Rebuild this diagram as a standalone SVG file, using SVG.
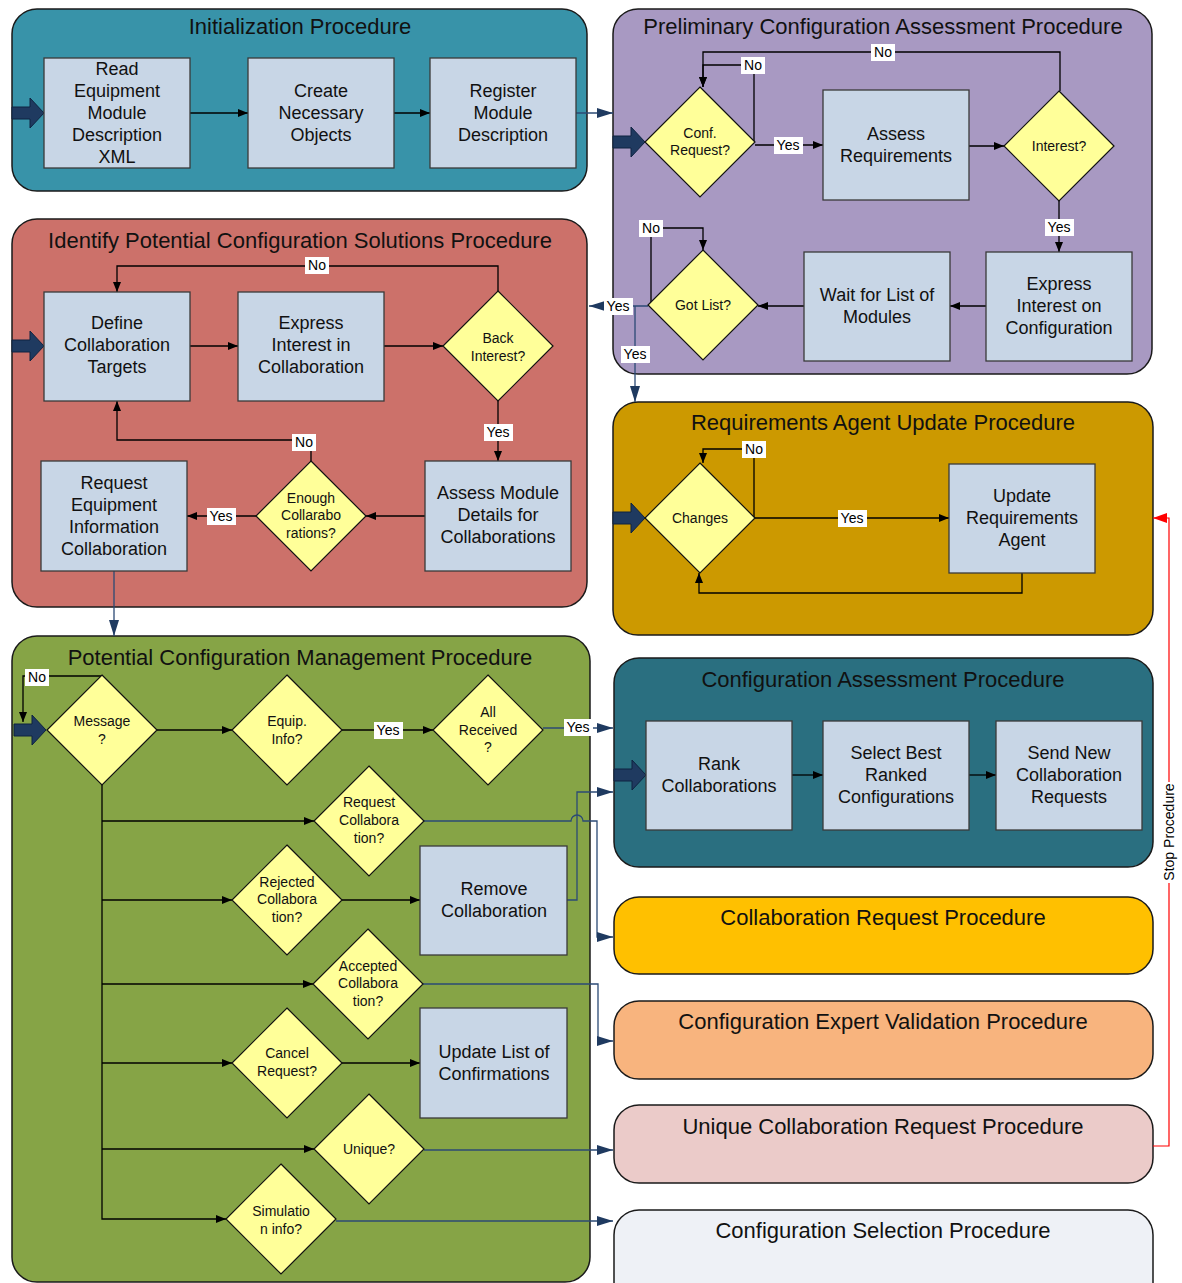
<svg xmlns="http://www.w3.org/2000/svg" width="1182" height="1283" viewBox="0 0 1182 1283">
<style>
.pan{stroke:#1a1a1a;stroke-width:1.5}
.box{fill:#C8D6E6;stroke:#3a3a3a;stroke-width:1.3}
.dia{fill:#FFFF99;stroke:#111;stroke-width:1.2}
.title{font-family:"Liberation Sans",Arial,sans-serif;font-size:22px;fill:#111;text-anchor:middle}
.bt{font-family:"Liberation Sans",Arial,sans-serif;font-size:18px;fill:#111;text-anchor:middle}
.dt{font-family:"Liberation Sans",Arial,sans-serif;font-size:14px;fill:#111;text-anchor:middle}
.lt{font-family:"Liberation Sans",Arial,sans-serif;font-size:14px;fill:#000;text-anchor:middle}
.lb{fill:#fff}
.cb{fill:none;stroke:#000;stroke-width:1.3;marker-end:url(#ab)}
.cbn{fill:none;stroke:#000;stroke-width:1.3}
.cu{fill:none;stroke:#2B4A75;stroke-width:1.3;marker-end:url(#au)}
.cun{fill:none;stroke:#2B4A75;stroke-width:1.3}
.cr{fill:none;stroke:#FF0000;stroke-width:1.2;marker-end:url(#ar)}
.fat{fill:#1F3A60;stroke:#0E2340;stroke-width:1}
</style>
<defs>
<marker id="ab" viewBox="0 0 10 8" refX="10" refY="4" markerWidth="10" markerHeight="8" markerUnits="userSpaceOnUse" orient="auto"><path d="M0,0L10,4L0,8z" fill="#000"/></marker>
<marker id="au" viewBox="0 0 16 10" refX="16" refY="5" markerWidth="16" markerHeight="10" markerUnits="userSpaceOnUse" orient="auto"><path d="M0,0L16,5L0,10z" fill="#1F3A60"/></marker>
<marker id="ar" viewBox="0 0 14 10" refX="14" refY="5" markerWidth="14" markerHeight="10" markerUnits="userSpaceOnUse" orient="auto"><path d="M0,0L14,5L0,10z" fill="#FF0000"/></marker>
<path id="fatp" class="fat" d="M0,-6H18V-15L32,0L18,15V6H0z"/>
</defs>

<!-- Panels -->
<g id="panel-init">
<rect class="pan" x="12" y="9" width="575" height="182" rx="25" fill="#3893A9"/>
<text class="title" x="300" y="34">Initialization Procedure</text>
</g>
<g id="panel-prelim">
<rect class="pan" x="613" y="9" width="539" height="365" rx="25" fill="#A899C2"/>
<text class="title" x="883" y="34">Preliminary Configuration Assessment Procedure</text>
</g>
<g id="panel-identify">
<rect class="pan" x="12" y="219" width="575" height="388" rx="25" fill="#CC716A"/>
<text class="title" x="300" y="248">Identify Potential Configuration Solutions Procedure</text>
</g>
<g id="panel-reqagent">
<rect class="pan" x="613" y="402" width="540" height="233" rx="25" fill="#CC9900"/>
<text class="title" x="883" y="430">Requirements Agent Update Procedure</text>
</g>
<g id="panel-potential">
<rect class="pan" x="12" y="636" width="578" height="646" rx="25" fill="#86A446"/>
<text class="title" x="300" y="665">Potential Configuration Management Procedure</text>
</g>
<g id="panel-confassess">
<rect class="pan" x="614" y="658" width="539" height="209" rx="25" fill="#2A6F80"/>
<text class="title" x="883" y="687">Configuration Assessment Procedure</text>
</g>
<g id="panel-collabreq">
<rect class="pan" x="614" y="897" width="539" height="77" rx="25" fill="#FFC000"/>
<text class="title" x="883" y="925">Collaboration Request Procedure</text>
</g>
<g id="panel-expert">
<rect class="pan" x="614" y="1001" width="539" height="78" rx="25" fill="#F8B47E"/>
<text class="title" x="883" y="1029">Configuration Expert Validation Procedure</text>
</g>
<g id="panel-unique">
<rect class="pan" x="614" y="1105" width="539" height="78" rx="25" fill="#EBCBC9"/>
<text class="title" x="883" y="1134">Unique Collaboration Request Procedure</text>
</g>
<g id="panel-selection">
<rect class="pan" x="614" y="1210" width="539" height="100" rx="25" fill="#EEF1F6"/>
<text class="title" x="883" y="1238">Configuration Selection Procedure</text>
</g>

<!-- Entry arrows -->
<g id="entries">
<use href="#fatp" x="12" y="113"/>
<use href="#fatp" x="12" y="346"/>
<use href="#fatp" x="613" y="142"/>
<use href="#fatp" x="613" y="518"/>
<use href="#fatp" x="14" y="730"/>
<use href="#fatp" x="614" y="775"/>
</g>

<!-- Connectors -->
<g id="connectors">
<path class="cb" d="M190,113H248"/>
<path class="cb" d="M394,113H430"/>
<path class="cu" d="M576,113H613"/>

<path class="cb" d="M755,145H823"/>
<path class="cb" d="M754,142V65H703V87"/>
<path class="cb" d="M1060,91V52H703V87"/>
<path class="cb" d="M969,146H1004"/>
<path class="cb" d="M1059,201V252"/>
<path class="cb" d="M986,306H950"/>
<path class="cb" d="M804,306H758"/>
<path class="cb" d="M651,305V228H703V250"/>
<path class="cu" d="M648,306H589"/>
<path class="cu" d="M635,306V402"/>

<path class="cb" d="M190,346H238"/>
<path class="cb" d="M384,346H443"/>
<path class="cb" d="M498,291V266H117V292"/>
<path class="cb" d="M498,401V461"/>
<path class="cb" d="M425,516H366"/>
<path class="cb" d="M311,461V440H117V401"/>
<path class="cb" d="M256,516H187"/>
<path class="cu" d="M114,571V636"/>

<path class="cb" d="M754,518V449H703V463"/>
<path class="cb" d="M755,518H949"/>
<path class="cb" d="M1022,573V593H699V573"/>

<path class="cr" d="M1153,1146H1169V518H1153"/>

<path class="cb" d="M102,676H23V722"/>
<path class="cb" d="M157,730H232"/>
<path class="cb" d="M342,730H433"/>
<path class="cu" d="M543,728H613"/>
<path class="cb" d="M102,785V1219H226"/>
<path class="cb" d="M102,821H314"/>
<path class="cb" d="M102,900H232"/>
<path class="cb" d="M342,900H420"/>
<path class="cb" d="M102,984H313"/>
<path class="cb" d="M102,1063H232"/>
<path class="cb" d="M342,1063H420"/>
<path class="cb" d="M102,1149H314"/>
<path class="cu" d="M567,900H577V792H613"/>
<path class="cu" d="M424,821H571A6,6 0 0 1 583,821H597V937H613"/>
<path class="cu" d="M423,984H598V1041H613"/>
<path class="cu" d="M424,1150H613"/>
<path class="cu" d="M336,1221H613"/>

<path class="cb" d="M792,775H823"/>
<path class="cb" d="M969,775H996"/>

<!-- labels -->
<rect class="lb" x="741" y="57" width="24" height="17"/><text class="lt" x="753" y="70">No</text>
<rect class="lb" x="871" y="44" width="24" height="17"/><text class="lt" x="883" y="57">No</text>
<rect class="lb" x="774" y="137" width="29" height="17"/><text class="lt" x="788" y="150">Yes</text>
<rect class="lb" x="1045" y="219" width="29" height="17"/><text class="lt" x="1059" y="232">Yes</text>
<rect class="lb" x="639" y="220" width="24" height="17"/><text class="lt" x="651" y="233">No</text>
<rect class="lb" x="604" y="298" width="29" height="17"/><text class="lt" x="618" y="311">Yes</text>
<rect class="lb" x="621" y="346" width="29" height="17"/><text class="lt" x="635" y="359">Yes</text>

<rect class="lb" x="305" y="257" width="24" height="17"/><text class="lt" x="317" y="270">No</text>
<rect class="lb" x="484" y="424" width="29" height="17"/><text class="lt" x="498" y="437">Yes</text>
<rect class="lb" x="292" y="434" width="24" height="17"/><text class="lt" x="304" y="447">No</text>
<rect class="lb" x="207" y="508" width="29" height="17"/><text class="lt" x="221" y="521">Yes</text>

<rect class="lb" x="742" y="441" width="24" height="17"/><text class="lt" x="754" y="454">No</text>
<rect class="lb" x="838" y="510" width="29" height="17"/><text class="lt" x="852" y="523">Yes</text>

<rect class="lb" x="25" y="669" width="24" height="17"/><text class="lt" x="37" y="682">No</text>
<rect class="lb" x="374" y="722" width="29" height="17"/><text class="lt" x="388" y="735">Yes</text>
<rect class="lb" x="564" y="719" width="29" height="17"/><text class="lt" x="578" y="732">Yes</text>

<rect class="lb" x="1161" y="782" width="17" height="101"/>
<text class="lt" transform="translate(1174,832) rotate(-90)" x="0" y="0">Stop Procedure</text>
</g>

<!-- Nodes: Initialization -->
<g id="n-read"><rect class="box" x="44" y="58" width="146" height="110"/>
<text class="bt" x="117" y="75">Read</text><text class="bt" x="117" y="97">Equipment</text><text class="bt" x="117" y="119">Module</text><text class="bt" x="117" y="141">Description</text><text class="bt" x="117" y="163">XML</text></g>
<g id="n-create"><rect class="box" x="248" y="58" width="146" height="110"/>
<text class="bt" x="321" y="97">Create</text><text class="bt" x="321" y="119">Necessary</text><text class="bt" x="321" y="141">Objects</text></g>
<g id="n-register"><rect class="box" x="430" y="58" width="146" height="110"/>
<text class="bt" x="503" y="97">Register</text><text class="bt" x="503" y="119">Module</text><text class="bt" x="503" y="141">Description</text></g>

<!-- Preliminary -->
<g id="n-confreq"><path class="dia" d="M700,87L755,142L700,197L645,142z"/>
<text class="dt" x="700" y="138">Conf.</text><text class="dt" x="700" y="155">Request?</text></g>
<g id="n-assessreq"><rect class="box" x="823" y="90" width="146" height="110"/>
<text class="bt" x="896" y="140">Assess</text><text class="bt" x="896" y="162">Requirements</text></g>
<g id="n-interest"><path class="dia" d="M1059,91L1114,146L1059,201L1004,146z"/>
<text class="dt" x="1059" y="151">Interest?</text></g>
<g id="n-expressconf"><rect class="box" x="986" y="252" width="146" height="109"/>
<text class="bt" x="1059" y="290">Express</text><text class="bt" x="1059" y="312">Interest on</text><text class="bt" x="1059" y="334">Configuration</text></g>
<g id="n-wait"><rect class="box" x="804" y="252" width="146" height="109"/>
<text class="bt" x="877" y="301">Wait for List of</text><text class="bt" x="877" y="323">Modules</text></g>
<g id="n-gotlist"><path class="dia" d="M703,250L758,305L703,360L648,305z"/>
<text class="dt" x="703" y="310">Got List?</text></g>

<!-- Identify -->
<g id="n-define"><rect class="box" x="44" y="292" width="146" height="109"/>
<text class="bt" x="117" y="329">Define</text><text class="bt" x="117" y="351">Collaboration</text><text class="bt" x="117" y="373">Targets</text></g>
<g id="n-expresscollab"><rect class="box" x="238" y="292" width="146" height="109"/>
<text class="bt" x="311" y="329">Express</text><text class="bt" x="311" y="351">Interest in</text><text class="bt" x="311" y="373">Collaboration</text></g>
<g id="n-back"><path class="dia" d="M498,291L553,346L498,401L443,346z"/>
<text class="dt" x="498" y="343">Back</text><text class="dt" x="498" y="361">Interest?</text></g>
<g id="n-assessmod"><rect class="box" x="425" y="461" width="146" height="110"/>
<text class="bt" x="498" y="499">Assess Module</text><text class="bt" x="498" y="521">Details for</text><text class="bt" x="498" y="543">Collaborations</text></g>
<g id="n-enough"><path class="dia" d="M311,461L366,516L311,571L256,516z"/>
<text class="dt" x="311" y="503">Enough</text><text class="dt" x="311" y="520">Collarabo</text><text class="dt" x="311" y="538">rations?</text></g>
<g id="n-reqequip"><rect class="box" x="41" y="461" width="146" height="110"/>
<text class="bt" x="114" y="489">Request</text><text class="bt" x="114" y="511">Equipment</text><text class="bt" x="114" y="533">Information</text><text class="bt" x="114" y="555">Collaboration</text></g>

<!-- Requirements agent -->
<g id="n-changes"><path class="dia" d="M700,463L755,518L700,573L645,518z"/>
<text class="dt" x="700" y="523">Changes</text></g>
<g id="n-updatereq"><rect class="box" x="949" y="464" width="146" height="109"/>
<text class="bt" x="1022" y="502">Update</text><text class="bt" x="1022" y="524">Requirements</text><text class="bt" x="1022" y="546">Agent</text></g>

<!-- Potential configuration management -->
<g id="n-message"><path class="dia" d="M102,675L157,730L102,785L47,730z"/>
<text class="dt" x="102" y="726">Message</text><text class="dt" x="102" y="744">?</text></g>
<g id="n-equip"><path class="dia" d="M287,675L342,730L287,785L232,730z"/>
<text class="dt" x="287" y="726">Equip.</text><text class="dt" x="287" y="744">Info?</text></g>
<g id="n-allrec"><path class="dia" d="M488,675L543,730L488,785L433,730z"/>
<text class="dt" x="488" y="717">All</text><text class="dt" x="488" y="735">Received</text><text class="dt" x="488" y="752">?</text></g>
<g id="n-reqcollab"><path class="dia" d="M369,766L424,821L369,876L314,821z"/>
<text class="dt" x="369" y="807">Request</text><text class="dt" x="369" y="825">Collabora</text><text class="dt" x="369" y="843">tion?</text></g>
<g id="n-rejected"><path class="dia" d="M287,845L342,900L287,955L232,900z"/>
<text class="dt" x="287" y="887">Rejected</text><text class="dt" x="287" y="904">Collabora</text><text class="dt" x="287" y="922">tion?</text></g>
<g id="n-remove"><rect class="box" x="420" y="846" width="147" height="109"/>
<text class="bt" x="494" y="895">Remove</text><text class="bt" x="494" y="917">Collaboration</text></g>
<g id="n-accepted"><path class="dia" d="M368,929L423,984L368,1039L313,984z"/>
<text class="dt" x="368" y="971">Accepted</text><text class="dt" x="368" y="988">Collabora</text><text class="dt" x="368" y="1006">tion?</text></g>
<g id="n-cancel"><path class="dia" d="M287,1008L342,1063L287,1118L232,1063z"/>
<text class="dt" x="287" y="1058">Cancel</text><text class="dt" x="287" y="1076">Request?</text></g>
<g id="n-updatelist"><rect class="box" x="420" y="1008" width="147" height="110"/>
<text class="bt" x="494" y="1058">Update List of</text><text class="bt" x="494" y="1080">Confirmations</text></g>
<g id="n-unique"><path class="dia" d="M369,1094L424,1149L369,1204L314,1149z"/>
<text class="dt" x="369" y="1154">Unique?</text></g>
<g id="n-simulation"><path class="dia" d="M281,1164L336,1219L281,1274L226,1219z"/>
<text class="dt" x="281" y="1216">Simulatio</text><text class="dt" x="281" y="1234">n info?</text></g>

<!-- Configuration assessment -->
<g id="n-rank"><rect class="box" x="646" y="721" width="146" height="109"/>
<text class="bt" x="719" y="770">Rank</text><text class="bt" x="719" y="792">Collaborations</text></g>
<g id="n-select"><rect class="box" x="823" y="721" width="146" height="109"/>
<text class="bt" x="896" y="759">Select Best</text><text class="bt" x="896" y="781">Ranked</text><text class="bt" x="896" y="803">Configurations</text></g>
<g id="n-send"><rect class="box" x="996" y="721" width="146" height="109"/>
<text class="bt" x="1069" y="759">Send New</text><text class="bt" x="1069" y="781">Collaboration</text><text class="bt" x="1069" y="803">Requests</text></g>
</svg>
